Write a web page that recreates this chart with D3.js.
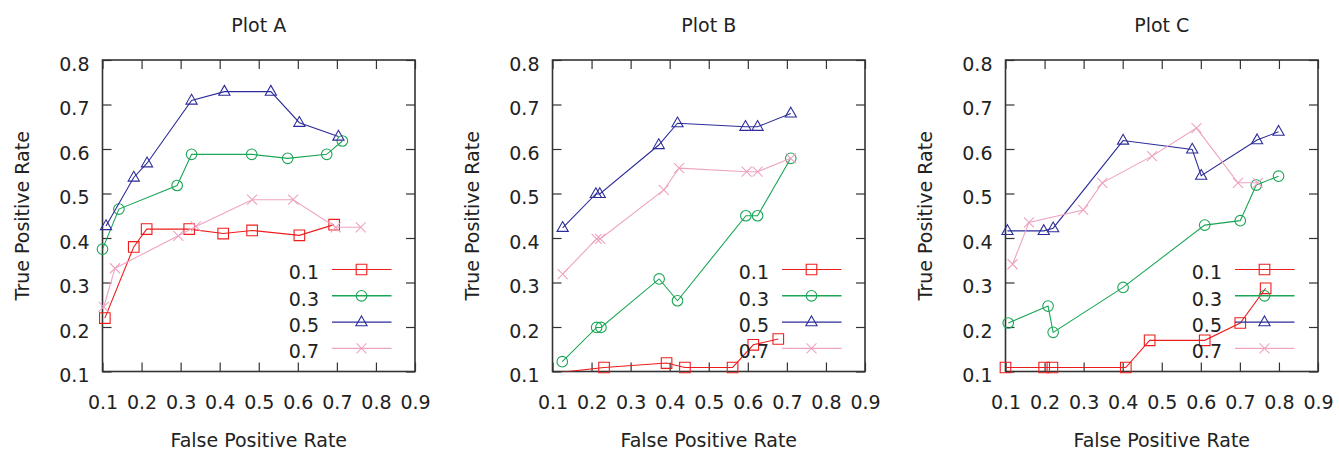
<!DOCTYPE html>
<html>
<head>
<meta charset="utf-8">
<script src="https://cdn.jsdelivr.net/npm/d3@7"></script>
<style>
    body { margin: 0; background: #fff; }
    text { font-family: "DejaVu Sans", Verdana, sans-serif; fill: #222; }
</style>
</head>
<body>
<svg id="chart" width="1339" height="450"></svg>
<script>
// thresholds shown in the legend
var seriesNames = ["0.1", "0.3", "0.5", "0.7"];
var xTicks = [0.1, 0.2, 0.3, 0.4, 0.5, 0.6, 0.7, 0.8, 0.9];
var yTicks = [0.1, 0.2, 0.3, 0.4, 0.5, 0.6, 0.7, 0.8];
var plotTitles = ["Plot A", "Plot B", "Plot C"];

// [false positive rate, true positive rate]
var plotA01 = [[0.106, 0.22], [0.18, 0.38], [0.213, 0.42], [0.322, 0.42], [0.409, 0.41], [0.483, 0.417], [0.604, 0.406], [0.693, 0.43]];
var plotA03 = [[0.1, 0.375], [0.142, 0.465], [0.291, 0.518], [0.328, 0.588], [0.482, 0.588], [0.574, 0.579], [0.674, 0.588], [0.714, 0.618]];
var plotA05 = [[0.109, 0.427], [0.18, 0.536], [0.214, 0.568], [0.328, 0.709], [0.412, 0.729], [0.531, 0.729], [0.604, 0.659], [0.704, 0.628]];
var plotA07 = [[0.103, 0.245], [0.132, 0.332], [0.294, 0.405], [0.339, 0.426], [0.483, 0.486], [0.588, 0.486], [0.697, 0.424], [0.761, 0.424]];

var plotB01 = [[0.11, 0.097], [0.232, 0.109], [0.392, 0.119], [0.439, 0.109], [0.561, 0.109], [0.614, 0.16], [0.678, 0.173]];
var plotB03 = [[0.125, 0.122], [0.213, 0.199], [0.224, 0.199], [0.373, 0.308], [0.42, 0.259], [0.595, 0.45], [0.625, 0.45], [0.71, 0.579]];
var plotB05 = [[0.126, 0.423], [0.211, 0.499], [0.221, 0.499], [0.372, 0.609], [0.42, 0.658], [0.594, 0.65], [0.625, 0.65], [0.71, 0.68]];
var plotB07 = [[0.126, 0.319], [0.213, 0.398], [0.222, 0.398], [0.385, 0.508], [0.424, 0.557], [0.597, 0.549], [0.625, 0.549], [0.71, 0.579]];

var plotC01 = [[0.1, 0.109], [0.199, 0.109], [0.22, 0.109], [0.408, 0.109], [0.469, 0.17], [0.61, 0.17], [0.701, 0.209], [0.766, 0.287]];
var plotC03 = [[0.107, 0.209], [0.209, 0.247], [0.222, 0.188], [0.401, 0.289], [0.61, 0.429], [0.701, 0.439], [0.742, 0.519], [0.799, 0.539]];
var plotC05 = [[0.105, 0.416], [0.198, 0.416], [0.222, 0.422], [0.401, 0.619], [0.578, 0.599], [0.601, 0.54], [0.744, 0.62], [0.799, 0.639]];
var plotC07 = [[0.118, 0.341], [0.16, 0.435], [0.299, 0.463], [0.348, 0.524], [0.475, 0.584], [0.589, 0.647], [0.695, 0.524], [0.746, 0.524]];

var plots = [
    [plotA01, plotA03, plotA05, plotA07],
    [plotB01, plotB03, plotB05, plotB07],
    [plotC01, plotC03, plotC05, plotC07]
];

var colors = ["#ee1d1d", "#1aa656", "#2c2c9a", "#eea3c1"];
var markers = [
    "M-5.3,-5.3H5.3V5.3H-5.3Z",
    "M-5.3,0A5.3,5.3 0 1,0 5.3,0A5.3,5.3 0 1,0 -5.3,0Z",
    "M0,-6.2L5.6,3.6H-5.6Z",
    "M-5,-5L5,5M-5,5L5,-5"
];

var svg = d3.select("#chart"),
    lefts = [102.5, 552.5, 1005.5],
    plotTop = 60,
    width = 312.5,
    height = 311.5,
    tickLen = 9,
    fontSize = "19px";

var x = d3.scaleLinear().domain([0.1, 0.9]).range([0, width]);
var y = d3.scaleLinear().domain([0.1, 0.8]).range([height, 0]);

plots.forEach(function (series, p) {
    var g = svg.append("g")
        .attr("transform", "translate(" + lefts[p] + "," + plotTop + ")");

    g.append("clipPath")
        .attr("id", "clip-" + p)
        .append("rect")
        .attr("width", width)
        .attr("height", height);

    // tick marks go inward on all four sides
    g.append("g")
        .attr("class", "xaxis")
        .attr("transform", "translate(0," + height + ")")
        .call(d3.axisBottom(x).tickValues(xTicks).tickSize(-tickLen).tickPadding(24).tickFormat(d3.format(".1f")));
    g.append("g")
        .call(d3.axisTop(x).tickValues(xTicks).tickSize(-tickLen).tickFormat(""));
    g.append("g")
        .attr("class", "yaxis")
        .call(d3.axisLeft(y).tickValues(yTicks).tickSize(-tickLen).tickPadding(13).tickFormat(d3.format(".1f")));
    g.append("g")
        .attr("transform", "translate(" + width + ",0)")
        .call(d3.axisRight(y).tickValues(yTicks).tickSize(-tickLen).tickFormat(""));

    g.selectAll(".domain").remove();
    g.selectAll(".tick line").attr("stroke", "#333").attr("stroke-width", 1.2);
    g.selectAll(".tick text")
        .attr("font-size", fontSize)
        .attr("font-family", "DejaVu Sans, Verdana, sans-serif")
        .attr("fill", "#222");
    // gnuplot puts the y labels a little below their ticks
    g.selectAll(".yaxis .tick text").attr("dy", "0.55em");

    g.append("rect")
        .attr("width", width)
        .attr("height", height)
        .attr("fill", "none")
        .attr("stroke", "#333")
        .attr("stroke-width", 1.6);

    var line = d3.line()
        .x(function (d) { return x(d[0]); })
        .y(function (d) { return y(d[1]); });

    series.forEach(function (values, i) {
        var sg = g.append("g");

        sg.append("path")
            .datum(values)
            .attr("clip-path", "url(#clip-" + p + ")")
            .attr("d", line)
            .attr("fill", "none")
            .attr("stroke", colors[i])
            .attr("stroke-width", 1.1);

        sg.selectAll(".pt")
            .data(values.filter(function (d) { return d[1] >= 0.1; }))
            .enter().append("path")
            .attr("class", "pt")
            .attr("transform", function (d) { return "translate(" + x(d[0]) + "," + y(d[1]) + ")"; })
            .attr("d", markers[i])
            .attr("fill", "none")
            .attr("stroke", colors[i])
            .attr("stroke-width", 1.1);

        // legend entry, drawn with its series like gnuplot does
        var ly = 209.5 + i * 26.3;
        sg.append("text")
            .attr("x", 216.5)
            .attr("y", ly)
            .attr("dy", "0.52em")
            .attr("text-anchor", "end")
            .attr("font-size", fontSize)
            .text(seriesNames[i]);
        sg.append("line")
            .attr("x1", 229.5).attr("x2", 289)
            .attr("y1", ly).attr("y2", ly)
            .attr("stroke", colors[i])
            .attr("stroke-width", i === 1 ? 1.6 : 1.1);
        sg.append("path")
            .attr("transform", "translate(259," + ly + ")")
            .attr("d", markers[i])
            .attr("fill", "none")
            .attr("stroke", colors[i])
            .attr("stroke-width", 1.1);
    });

    g.append("text")
        .attr("x", width / 2)
        .attr("y", -28)
        .attr("text-anchor", "middle")
        .attr("font-size", fontSize)
        .text(plotTitles[p]);

    g.append("text")
        .attr("x", width / 2)
        .attr("y", 387)
        .attr("text-anchor", "middle")
        .attr("font-size", fontSize)
        .text("False Positive Rate");

    g.append("text")
        .attr("transform", "translate(-74," + (height / 2) + ") rotate(-90)")
        .attr("text-anchor", "middle")
        .attr("font-size", fontSize)
        .text("True Positive Rate");
});
</script>
</body>
</html>
